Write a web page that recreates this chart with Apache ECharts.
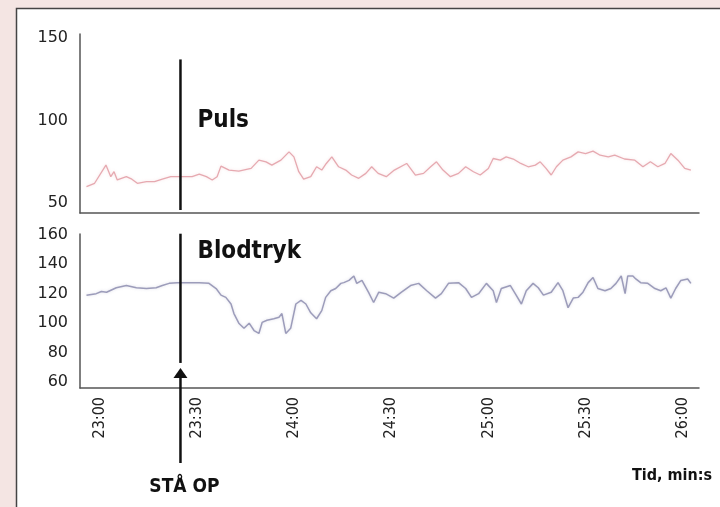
<!DOCTYPE html>
<html>
<head>
<meta charset="utf-8">
<script src="https://cdn.jsdelivr.net/npm/echarts@6/dist/echarts.min.js"></script>
<style>
  html, body { margin: 0; padding: 0; background: #f4e5e3; }
  #chart { width: 720px; height: 507px; }
</style>
</head>
<body>
<div id="chart"></div>
<script>
// tid i sekunder (23:00 = 1380)
const pulsTid = [1376, 1378.5, 1382, 1383.5, 1384.5, 1385.5, 1388.3, 1390, 1391.7, 1394.5, 1397, 1399.4, 1402, 1404.6, 1408.6,
  1410.8, 1413, 1414.8, 1416.3, 1417.5, 1420, 1423, 1426.8, 1429.2, 1431.4, 1433.2, 1436, 1438.5, 1440, 1441.5, 1443,
  1445.2, 1447, 1448.6, 1450, 1451.7, 1453.8, 1456, 1457.8, 1460, 1462.2, 1464, 1466, 1468.5, 1471, 1474.8, 1477.5,
  1480, 1482.2, 1484, 1486, 1488.3, 1490.8, 1493, 1495.4, 1497.5, 1500, 1501.5, 1503.7, 1505.5, 1507.7, 1510, 1512.3,
  1514.5, 1516, 1517.8, 1519.4, 1521, 1523, 1525.5, 1527.7, 1530, 1532.3, 1534.5, 1537, 1539, 1542, 1545.2, 1547.7,
  1550, 1552.3, 1554.5, 1556.3, 1558.5, 1560.6, 1562.5]
const pulsVerdi = [60, 62, 73, 66, 69, 64, 66, 64.5, 62, 63, 63, 64.5, 66, 66, 66,
  67.6, 66, 64, 66, 72.4, 70, 69.4, 71, 76, 75, 73, 76, 81, 78, 69, 64.5,
  66, 72, 70, 74, 78, 72, 70, 67, 65, 68, 72, 68, 66, 70, 74, 67,
  68, 72, 75, 70, 66, 68, 72, 69, 67, 71, 77, 76, 78, 76.7, 74, 72,
  73, 75, 71, 67, 72, 76, 78, 81, 80, 81.5, 79, 78, 79, 76.7, 76, 72,
  75, 72, 74, 80, 76, 71, 70]

const blodtrykTid = [1376, 1379, 1380.6, 1382.2, 1385.2, 1388.3, 1391.4, 1394.5, 1397.5, 1399.4, 1401.5, 1404, 1406.8, 1410.8,
  1413.8, 1416, 1417.5, 1419, 1420.6, 1421.5, 1423, 1424.6, 1426.2, 1427.7, 1429.2, 1430.2, 1431.7, 1433.8, 1435.4,
  1436.3, 1437.5, 1439, 1440.6, 1442.2, 1443.7, 1445.2, 1447, 1448.6, 1449.8, 1451.4, 1452.9, 1454.5, 1455.4, 1457,
  1458.5, 1459.4, 1461, 1463, 1464.6, 1466.2, 1468.3, 1470.8, 1473.2, 1476, 1478.5, 1481, 1483.7, 1485.5, 1487.7,
  1490.8, 1493, 1494.8, 1497, 1499.4, 1501.5, 1502.5, 1504, 1506.8, 1508.3, 1510.2, 1511.7, 1513.8, 1515.4, 1517,
  1519.4, 1521.5, 1523, 1524.6, 1526.2, 1527.7, 1529.2, 1530.8, 1532.3, 1533.8, 1536, 1537.8, 1539.4, 1541, 1542.2,
  1543, 1544.6, 1545.5, 1547, 1549.2, 1551.4, 1553.2, 1554.8, 1556.3, 1557.8, 1559.4, 1561.5, 1562.5]
const blodtrykVerdi = [119, 120, 121.5, 121, 124, 125.5, 124, 123.5, 124, 125.5, 127, 127.5, 127.5, 127.5,
  127, 123.5, 119, 117.5, 113, 106.5, 100, 96.5, 100, 95, 93, 100.5, 102, 103, 104,
  106.5, 93, 96.5, 113, 115.5, 113, 107, 103, 108.5, 117.5, 122, 123.5, 127, 127.5, 129,
  132, 127, 129, 121, 114, 121, 120, 117, 121, 125.5, 127, 122, 117, 120, 127,
  127.5, 123.5, 117.5, 120, 127, 122, 114, 123.5, 125.5, 120, 113, 122, 127, 124, 119,
  121, 127.5, 122, 110.5, 117, 117.5, 121, 127.5, 131, 123.5, 122, 123.5, 127, 132, 120,
  132, 132, 130, 127.5, 127, 123.5, 122, 124, 117, 123.5, 129, 130, 127]

const tidTicks = [1380, 1410, 1440, 1470, 1500, 1530, 1560]
const pulsTicks = [50, 100, 150]
const blodtrykTicks = [60, 80, 100, 120, 140, 160]
const staaOp = 1405

const chart = echarts.init(document.getElementById('chart'))

function fmtTid(v) {
  const m = Math.floor(v / 60)
  const s = v % 60
  return m + ':' + (s < 10 ? '0' : '') + s
}

const axisLine = { show: true, onZero: false, lineStyle: { color: '#555', width: 1.5 } }
const labelFont = { color: '#222', fontSize: 16, fontFamily: 'DejaVu Sans' }

function xAkse(gridIndex, visLabels) {
  return {
    type: 'value', gridIndex, min: 1374, max: 1565,
    axisLine, axisTick: { show: false }, splitLine: { show: false },
    axisLabel: visLabels ? {
      customValues: tidTicks, rotate: 90, margin: 9,
      formatter: fmtTid, color: '#222', fontSize: 16, fontFamily: 'DejaVu Sans Condensed'
    } : { show: false }
  }
}

function yAkse(gridIndex, min, max, ticks) {
  return {
    type: 'value', gridIndex, min, max,
    axisLine, axisTick: { show: false }, splitLine: { show: false },
    axisLabel: Object.assign({ customValues: ticks, margin: 12 }, labelFont)
  }
}

chart.setOption({
  backgroundColor: '#f4e5e3',
  animation: false,
  grid: [
    { left: 80, right: 21, top: 34, height: 179 },
    { left: 80, right: 21, top: 234, height: 154 }
  ],
  xAxis: [xAkse(0, false), xAkse(1, true)],
  yAxis: [yAkse(0, 44, 152.4, pulsTicks), yAkse(1, 56, 160.5, blodtrykTicks)],
  series: [
    {
      name: 'Puls', type: 'line', xAxisIndex: 0, yAxisIndex: 0,
      data: pulsTid.map((t, i) => [t, pulsVerdi[i]]),
      showSymbol: false,
      lineStyle: { color: '#e6a9b0', width: 1.3, shadowColor: 'rgba(230,169,176,0.35)', shadowBlur: 3 }
    },
    {
      name: 'Blodtryk', type: 'line', xAxisIndex: 1, yAxisIndex: 1,
      data: blodtrykTid.map((t, i) => [t, blodtrykVerdi[i]]),
      showSymbol: false,
      lineStyle: { color: '#9c9cba', width: 1.5, shadowColor: 'rgba(156,156,186,0.35)', shadowBlur: 3 }
    }
  ]
})

// markering: STÅ OP
const p0 = chart.convertToPixel({ gridIndex: 0 }, [staaOp, 137])
const p1 = chart.convertToPixel({ gridIndex: 0 }, [staaOp, 45.8])
const b0 = chart.convertToPixel({ gridIndex: 1 }, [staaOp, 160.7])
const b1 = chart.convertToPixel({ gridIndex: 1 }, [staaOp, 73])
const tip = chart.convertToPixel({ gridIndex: 1 }, [staaOp, 69.5])
const bund = chart.convertToPixel({ gridIndex: 1 }, [staaOp, 56])
const x = p0[0]
const stroke = { stroke: '#111', lineWidth: 2.5 }

chart.setOption({
  graphic: [
    {
      type: 'rect', z: -1, silent: true,
      shape: { x: 16.5, y: 8.5, width: 760, height: 560 },
      style: { fill: '#fff', stroke: '#444', lineWidth: 1.5 }
    },
    { type: 'line', z: 100, shape: { x1: x, y1: p0[1], x2: x, y2: p1[1] }, style: stroke },
    { type: 'line', z: 100, shape: { x1: x, y1: b0[1], x2: x, y2: b1[1] }, style: stroke },
    {
      type: 'polygon', z: 100,
      shape: { points: [[x, tip[1]], [x - 7, tip[1] + 10], [x + 7, tip[1] + 10]] },
      style: { fill: '#111' }
    },
    { type: 'line', z: 100, shape: { x1: x, y1: tip[1] + 9, x2: x, y2: bund[1] + 75 }, style: stroke },
    {
      type: 'text', z: 100, left: x + 17, top: 109,
      style: { text: 'Puls', fontSize: 24, fontWeight: 'bold', fontFamily: 'DejaVu Sans Condensed', fill: '#111' }
    },
    {
      type: 'text', z: 100, left: x + 17, top: 240,
      style: { text: 'Blodtryk', fontSize: 24, fontWeight: 'bold', fontFamily: 'DejaVu Sans Condensed', fill: '#111' }
    },
    {
      type: 'text', z: 100, x: x + 4, y: bund[1] + 99,
      style: { text: 'STÅ OP', fontSize: 19, fontWeight: 'bold', fontFamily: 'DejaVu Sans Condensed', fill: '#111', align: 'center', verticalAlign: 'middle' }
    },
    {
      type: 'text', z: 100, right: 8, top: 468,
      style: { text: 'Tid, min:s', fontSize: 16, fontWeight: 'bold', fontFamily: 'DejaVu Sans Condensed', fill: '#111' }
    }
  ]
})
</script>
</body>
</html>
